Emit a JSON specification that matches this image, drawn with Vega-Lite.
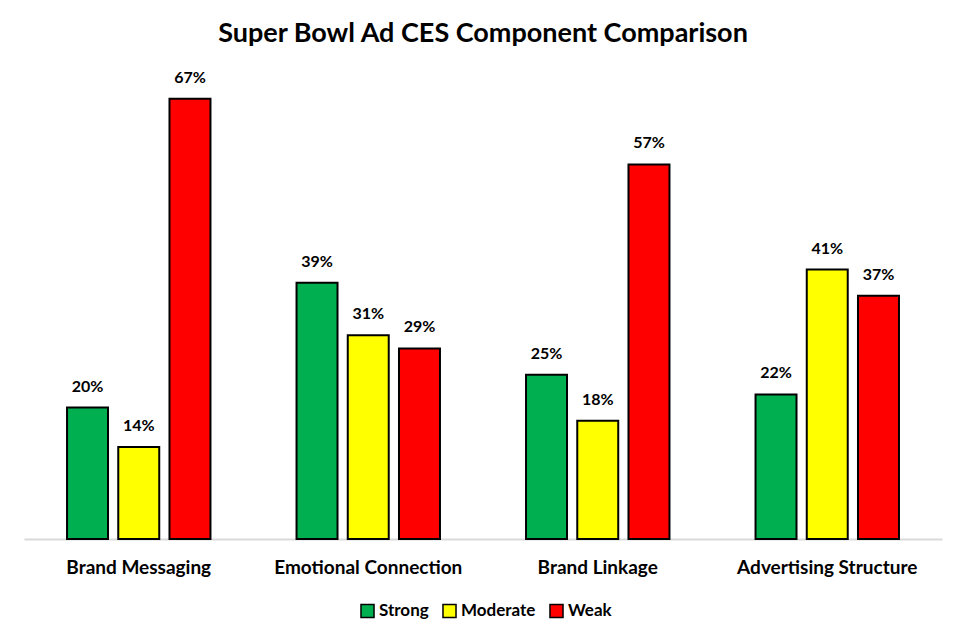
{
  "$schema": "https://vega.github.io/schema/vega-lite/v6.json",
  "autosize": "none",
  "width": 918,
  "height": 460,
  "padding": {"left": 24, "top": 79, "right": 23, "bottom": 101},
  "background": "white",
  "title": {
    "text": "Super Bowl Ad CES Component Comparison",
    "font": "Lato",
    "fontSize": 27,
    "fontWeight": "bold",
    "color": "#000000",
    "anchor": "middle",
    "offset": 22
  },
  "data": {
    "values": [
      {"component": "Brand Messaging", "level": "Strong", "share": 0.20},
      {"component": "Brand Messaging", "level": "Moderate", "share": 0.14},
      {"component": "Brand Messaging", "level": "Weak", "share": 0.67},
      {"component": "Emotional Connection", "level": "Strong", "share": 0.39},
      {"component": "Emotional Connection", "level": "Moderate", "share": 0.31},
      {"component": "Emotional Connection", "level": "Weak", "share": 0.29},
      {"component": "Brand Linkage", "level": "Strong", "share": 0.25},
      {"component": "Brand Linkage", "level": "Moderate", "share": 0.18},
      {"component": "Brand Linkage", "level": "Weak", "share": 0.57},
      {"component": "Advertising Structure", "level": "Strong", "share": 0.22},
      {"component": "Advertising Structure", "level": "Moderate", "share": 0.41},
      {"component": "Advertising Structure", "level": "Weak", "share": 0.37}
    ]
  },
  "encoding": {
    "x": {
      "field": "component",
      "type": "nominal",
      "sort": null,
      "scale": {"paddingInner": 0, "paddingOuter": 0},
      "axis": {
        "title": null,
        "labelAngle": 0,
        "labelFont": "Lato",
        "labelFontSize": 19,
        "labelFontWeight": "bold",
        "labelColor": "#000000",
        "labelPadding": 19,
        "labelLimit": 0,
        "ticks": false,
        "domainColor": "#d9d9d9",
        "domainWidth": 2
      }
    },
    "xOffset": {
      "field": "level",
      "type": "nominal",
      "sort": ["Strong", "Moderate", "Weak"],
      "scale": {"paddingInner": 0.2, "paddingOuter": 0.84}
    },
    "y": {
      "field": "share",
      "type": "quantitative",
      "scale": {"domain": [0, 0.7]},
      "axis": null
    }
  },
  "layer": [
    {
      "mark": {"type": "bar", "stroke": "#000000", "strokeWidth": 2},
      "encoding": {
        "color": {
          "field": "level",
          "type": "nominal",
          "sort": ["Strong", "Moderate", "Weak"],
          "scale": {"domain": ["Strong", "Moderate", "Weak"], "range": ["#00b050", "#ffff00", "#ff0000"]},
          "legend": {
            "title": null,
            "orient": "none",
            "direction": "horizontal",
            "legendX": 335,
            "legendY": 523,
            "symbolType": "square",
            "symbolSize": 170,
            "symbolStrokeColor": "#000000",
            "symbolStrokeWidth": 1.5,
            "labelFont": "Lato",
            "labelFontSize": 17,
            "labelFontWeight": "bold",
            "labelColor": "#000000",
            "labelOffset": 3,
            "columnPadding": 10
          }
        }
      }
    },
    {
      "mark": {
        "type": "text",
        "baseline": "bottom",
        "dy": -13,
        "font": "Lato",
        "fontSize": 16,
        "fontWeight": "bold",
        "color": "#000000"
      },
      "encoding": {
        "text": {"field": "share", "type": "quantitative", "format": ".0%"}
      }
    }
  ],
  "config": {"view": {"stroke": null}}
}
